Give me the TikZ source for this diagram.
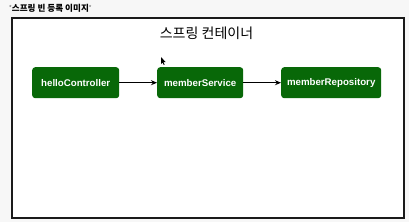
\documentclass[tikz,border=0pt]{standalone}
\usepackage{fontspec}
\setmainfont{Liberation Sans}
\newfontfamily\kr{Noto Sans CJK KR}
\usetikzlibrary{arrows.meta}
\definecolor{bgray}{HTML}{F7F7F7}
\definecolor{beangreen}{HTML}{086808}
\definecolor{frame}{HTML}{1A1A1A}
\tikzset{
  bean/.style={draw=none, fill=beangreen, rounded corners=3pt, text=white,
    font=\fontsize{9.7}{11}\selectfont\bfseries, inner sep=0pt, anchor=north west},
  link/.style={draw=black, line width=1.3pt, -{Stealth[length=6pt,width=5pt]}},
}
\begin{document}
\begin{tikzpicture}[x=1pt,y=-1pt]
\useasboundingbox (0,0) rectangle (409,222);
\fill[bgray] (0,0) rectangle (409,222);
\node[anchor=west, inner sep=0pt, font=\kr\fontsize{8.6}{10}\selectfont\bfseries] (cap) at (9,8)
  {\textcolor{gray}{\raisebox{1.5pt}{\fontsize{5}{5}\selectfont*}}스프링 빈 등록 이미지\textcolor{gray}{\raisebox{1.5pt}{\fontsize{5}{5}\selectfont*}}};
\draw[frame, fill=white, line width=2pt] (12,18) rectangle (404,218);
\node[font=\kr\fontsize{14}{16}\selectfont, inner sep=0pt] (title) at (206.5,33.5) {스프링 컨테이너};
\node[bean, minimum width=87pt, minimum height=31pt] (hc) at (32,67) {helloController};
\node[bean, minimum width=86pt, minimum height=31pt] (ms) at (157,67) {memberService};
\node[bean, minimum width=100pt, minimum height=31pt] (mr) at (281,67) {memberRepository};
\draw[link] (hc) -- (ms);
\draw[link] (ms) -- (mr);
\fill[black] (161,57) -- (161,64) -- (162.6,62.5) -- (163.8,65) -- (164.6,64.6) -- (163.4,62.2) -- (165.5,62) -- cycle;
\end{tikzpicture}
\end{document}
